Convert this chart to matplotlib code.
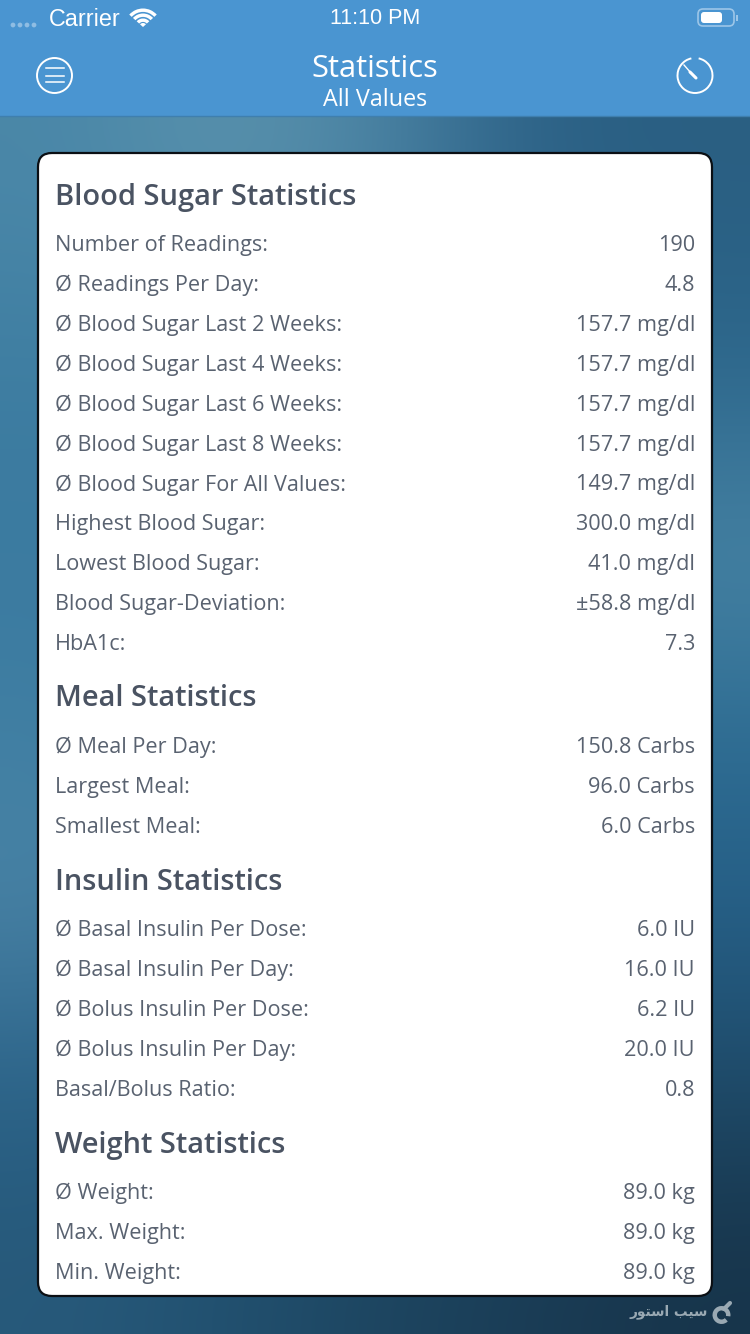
import numpy as np
import matplotlib
matplotlib.use("Agg")
import matplotlib.pyplot as plt
from matplotlib.patches import Circle, FancyBboxPatch, Rectangle, Arc, Wedge

plt.rcParams['font.family'] = ['Open Sans', 'DejaVu Sans']

# section contents
blood_labels = ["Number of Readings:", "Ø Readings Per Day:", "Ø Blood Sugar Last 2 Weeks:",
                "Ø Blood Sugar Last 4 Weeks:", "Ø Blood Sugar Last 6 Weeks:", "Ø Blood Sugar Last 8 Weeks:",
                "Ø Blood Sugar For All Values:", "Highest Blood Sugar:", "Lowest Blood Sugar:",
                "Blood Sugar-Deviation:", "HbA1c:"]
blood_values = ["190", "4.8", "157.7 mg/dl", "157.7 mg/dl", "157.7 mg/dl", "157.7 mg/dl",
                "149.7 mg/dl", "300.0 mg/dl", "41.0 mg/dl", "±58.8 mg/dl", "7.3"]
meal_labels = ["Ø Meal Per Day:", "Largest Meal:", "Smallest Meal:"]
meal_values = ["150.8 Carbs", "96.0 Carbs", "6.0 Carbs"]
insulin_labels = ["Ø Basal Insulin Per Dose:", "Ø Basal Insulin Per Day:", "Ø Bolus Insulin Per Dose:",
                  "Ø Bolus Insulin Per Day:", "Basal/Bolus Ratio:"]
insulin_values = ["6.0 IU", "16.0 IU", "6.2 IU", "20.0 IU", "0.8"]
weight_labels = ["Ø Weight:", "Max. Weight:", "Min. Weight:"]
weight_values = ["89.0 kg", "89.0 kg", "89.0 kg"]

# title, y of title, y of first row
sections = [("Blood Sugar Statistics", 197, 245.5, blood_labels, blood_values),
            ("Meal Statistics", 699, 747.5, meal_labels, meal_values),
            ("Insulin Statistics", 882, 930.5, insulin_labels, insulin_values),
            ("Weight Statistics", 1145, 1193.5, weight_labels, weight_values)]

TEXT_DARK = "#4a5362"
TEXT_ROW = "#596270"
BLUE = "#4a95d1"
WHITE = "#ffffff"
MARK = "#9aa9b3"

fig = plt.figure(figsize=(7.5, 13.34), dpi=100)
ax = fig.add_axes([0, 0, 1, 1])
ax.set_xlim(0, 750)
ax.set_ylim(1334, 0)
ax.axis('off')

# blurred background, rough colours (only the edges show)
bg = ["#4a87a8 #5b93ad #4c85a5 #2c6186 #2a5f82",
      "#3d7da1 #3f7ca0 #3a7399 #306a90 #2c678c",
      "#3b7aa0 #3b779c #3a7599 #3f7b9e #4a86a6",
      "#3f7fa3 #3b789c #33708f #2f6c90 #2e6d93",
      "#4c85a7 #3a7299 #2c6489 #286088 #266088",
      "#2b648a #275c80 #235470 #205070 #1f4c6b",
      "#27597a #21506f #1d4560 #1a3c55 #17344a"]
bg_rgb = np.array([[matplotlib.colors.to_rgb(c) for c in row.split()] for row in bg])
ax.imshow(bg_rgb, extent=(0, 750, 1334, 116), interpolation='bicubic', aspect='auto', zorder=0)
ax.set_xlim(0, 750)
ax.set_ylim(1334, 0)

# header
ax.add_patch(Rectangle((0, 0), 750, 116, fc=BLUE, ec='none', zorder=1))
ax.plot([0, 750], [116, 116], color="#3f7fae", lw=1, zorder=2)

ax.text(85, 19, "Carrier", color=WHITE, fontsize=16.8, ha='center', va='center', zorder=3, family='Liberation Sans')
ax.text(375, 19, "11:10 PM", color=WHITE, fontsize=15.5, ha='center', va='center', zorder=3, family='Liberation Sans')
ax.text(375, 69, "Statistics", color=WHITE, fontsize=22.2, ha='center', va='center', zorder=3)
ax.text(375, 99.5, "All Values", color=WHITE, fontsize=16.8, ha='center', va='center', zorder=3)

# signal dots
for x in [13, 20, 27, 34]:
    ax.add_patch(Circle((x, 25), 2.4, fc="#8fbde3", ec='none', zorder=3))

# wifi
for r in [6, 11, 16]:
    ax.add_patch(Wedge((143, 27), r + 2.5, 222, 318, width=3.4, fc=WHITE, ec='none', zorder=3))
ax.add_patch(Wedge((143, 27), 4, 222, 318, fc=WHITE, ec='none', zorder=3))

# battery
ax.add_patch(FancyBboxPatch((698, 9), 36, 17, boxstyle="round,pad=0,rounding_size=5", fc='none',
                            ec="#9cc6e8", lw=1.2, zorder=3))
ax.add_patch(FancyBboxPatch((701, 12), 21, 11, boxstyle="round,pad=0,rounding_size=3", fc=WHITE,
                            ec='none', zorder=3))
ax.add_patch(Rectangle((736, 15), 1.5, 6, fc="#9cc6e8", ec='none', zorder=3))

# menu button
ax.add_patch(Circle((54.5, 75.5), 17.5, fc='none', ec=WHITE, lw=1.4, zorder=3))
for y in [68, 75.5, 82]:
    ax.plot([45.5, 63.5], [y, y], color=WHITE, lw=1.1, zorder=3)

# timer button
ax.add_patch(Arc((695, 75.5), 35, 35, theta1=-78, theta2=258, ec=WHITE, lw=1.4, zorder=3))
ax.plot([684, 691], [65, 73], color=WHITE, lw=1, zorder=3)
ax.plot([690, 696], [72, 78], color=WHITE, lw=2.2, zorder=3, solid_capstyle='round')

# white card
ax.add_patch(FancyBboxPatch((38, 153), 674, 1143, boxstyle="round,pad=0,rounding_size=14",
                            fc=WHITE, ec="#0b0f14", lw=1.6, zorder=3))

for title, y_title, y_first, labels, values in sections:
    ax.text(55, y_title, title, color=TEXT_DARK, fontsize=20.85, fontweight='semibold',
            ha='left', va='center', zorder=4)
    for i, (label, value) in enumerate(zip(labels, values)):
        y = y_first + i * 39.9
        ax.text(55, y, label, color=TEXT_ROW, fontsize=15.6, ha='left', va='center', zorder=4)
        ax.text(695, y, value, color=TEXT_ROW, fontsize=15.6, ha='right', va='center', zorder=4)

# store watermark, shaped Arabic forms in visual order
ax.text(669, 1312, "\ufead\ufeee\ufe98\ufeb3\ufe8d \ufe90\ufbff\ufeb3", color=MARK, fontsize=9.8,
        fontweight='bold', family='DejaVu Sans', ha='center', va='center', zorder=2)
ax.add_patch(Arc((721.5, 1315), 13.5, 13.5, theta1=-315, theta2=10, ec=MARK, lw=3.2, zorder=2))
ax.plot([724, 730], [1309, 1303], color=MARK, lw=3, zorder=2, solid_capstyle='round')

fig.savefig("out.png", dpi=100)
